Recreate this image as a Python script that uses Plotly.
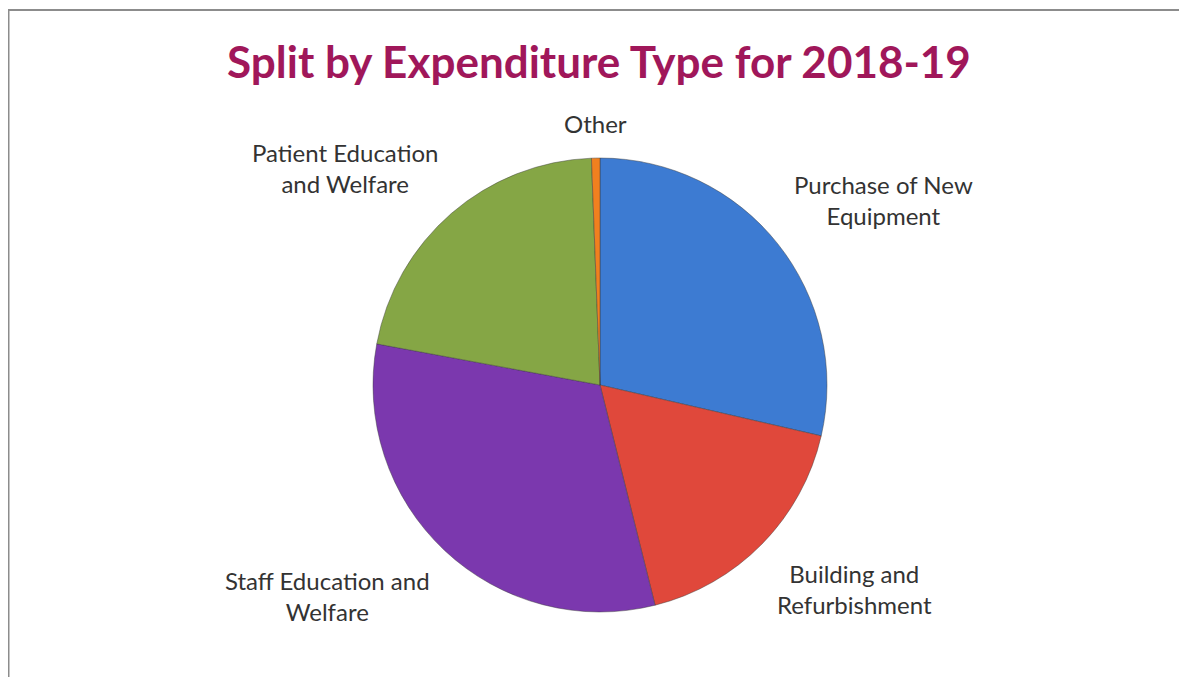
import math
import plotly.graph_objects as go

categories = ["Purchase of New<br>Equipment", "Building and<br>Refurbishment",
              "Staff Education and<br>Welfare", "Patient Education<br>and Welfare", "Other"]
shares = [28.6, 17.5, 31.8, 21.5, 0.6]
colors = ["#3D7BD2", "#E0483B", "#7B38AE", "#85A645", "#F0801F"]

W, H = 1187, 677
# pie placement in figure pixels (centre and radius)
CX, CY, R = 592, 377, 227
LABEL_R = 1.08    # label-box corner distance, in pie radii

# mid-angles of slices (degrees clockwise from 12 o'clock), from the data
total = sum(shares)
mids, cum = [], 0.0
for s in shares:
    mids.append((cum + s / 2) / total * 360)
    cum += s

fig = go.Figure()
fig.add_trace(go.Pie(
    labels=categories,
    values=shares,
    sort=False,
    direction="clockwise",
    rotation=0,
    marker=dict(colors=colors, line=dict(color="rgba(60,60,60,0.45)", width=1)),
    textinfo="none",
    showlegend=False,
    hoverinfo="label+percent",
    domain=dict(x=[(CX - R) / W, (CX + R) / W], y=[1 - (CY + R) / H, 1 - (CY - R) / H]),
))

# label anchor points on a hidden cartesian frame whose unit is one pie radius
lx = [LABEL_R * math.sin(math.radians(a)) for a in mids]
ly = [LABEL_R * math.cos(math.radians(a)) for a in mids]
fig.add_trace(go.Scatter(x=lx, y=ly, mode="markers", marker=dict(size=1, opacity=0),
                         showlegend=False, hoverinfo="skip"))

annotations = []
for text, x, y in zip(categories, lx, ly):
    if abs(x) < 0.1:
        xa = "center"
    else:
        xa = "left" if x > 0 else "right"
    ya = "bottom" if y > 0 else "top"
    annotations.append(dict(x=x, y=y, xref="x", yref="y", text=text, showarrow=False,
                            xanchor=xa, yanchor=ya, align="center",
                            font=dict(family="Lato", size=24, color="#333333")))

fig.update_layout(
    width=W, height=H,
    margin=dict(l=0, r=0, t=0, b=0),
    paper_bgcolor="white",
    plot_bgcolor="rgba(0,0,0,0)",
    xaxis=dict(range=[-CX / R, (W - CX) / R], visible=False, fixedrange=True),
    yaxis=dict(range=[(CY - H) / R, CY / R], visible=False, fixedrange=True),
    annotations=annotations,
    title=dict(text="<b>Split by Expenditure Type for 2018-19</b>",
               x=591 / W, xanchor="center", y=1 - 55 / H, yanchor="middle",
               font=dict(family="Lato", size=44, color="#A0175A")),
    shapes=[dict(type="rect", xref="paper", yref="paper",
                 x0=0.5 / W, x1=1.02, y0=-0.02, y1=1 - 2 / H,
                 line=dict(color="#8C8C8C", width=2), fillcolor="rgba(0,0,0,0)")],
)

fig.write_html("out.html")
